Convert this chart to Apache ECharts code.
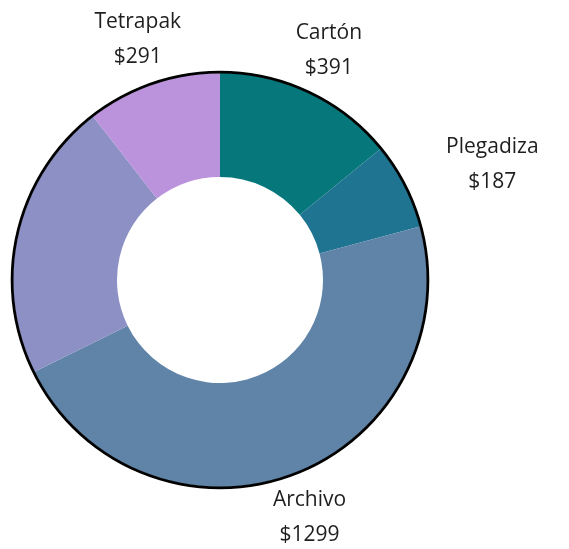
<!DOCTYPE html>
<html>
<head>
<meta charset="utf-8">
<script src="https://cdn.jsdelivr.net/npm/echarts@6/dist/echarts.min.js"></script>
<style>html,body{margin:0;padding:0;background:#fff}#c{width:569px;height:549px}</style>
</head>
<body>
<div id="c"></div>
<script>
const categories = ['Cartón', 'Plegadiza', 'Archivo', 'Otros', 'Tetrapak'];
const values = [391, 187, 1299, 605, 291];
const showLabel = [true, true, true, false, true];
const colors = ['#06777a', '#1f7591', '#6084a8', '#8c90c5', '#bb93dc'];

const chart = echarts.init(document.getElementById('c'));
const CX = 220, CY = 280;
chart.setOption({
  animation: false,
  series: [
    {
      type: 'pie',
      center: [CX, CY],
      radius: [103, 207],
      startAngle: 90,
      clockwise: true,
      avoidLabelOverlap: false,
      silent: true,
      data: categories.map((c, i) => ({
        name: c,
        value: values[i],
        itemStyle: { color: colors[i] },
        label: { show: showLabel[i] },
        labelLine: { show: showLabel[i] }
      })),
      label: {
        position: 'outside',
        formatter: p => p.name + '\n$' + p.value,
        fontFamily: 'Open Sans',
        fontWeight: 400,
        fontSize: 21,
        lineHeight: 35,
        color: '#1e1e1e',
        align: 'center'
      },
      labelLine: { show: true, length: 47, length2: 0, lineStyle: { color: 'rgba(0,0,0,0)', width: 0 } },
      labelLayout: function (p) {
        const pts = p.labelLinePoints;
        if (!pts) return {};
        const p0 = pts[0], p1 = pts[1];
        const dx = p1[0] - p0[0], dy = p1[1] - p0[1];
        const len = Math.sqrt(dx * dx + dy * dy) || 1;
        const ux = dx / len;
        const w = p.labelRect.width;
        let x = p1[0];
        if (ux > 0.7) x = p1[0] + w / 2;
        else if (ux < -0.7) x = p1[0] - w / 2;
        return { x: x, y: p1[1], align: 'center', verticalAlign: 'middle' };
      }
    },
    {
      type: 'pie',
      center: [CX, CY],
      radius: [206.5, 209.3],
      silent: true,
      label: { show: false },
      labelLine: { show: false },
      data: [{ value: 1, itemStyle: { color: '#000' } }]
    }
  ]
});
</script>
</body>
</html>
